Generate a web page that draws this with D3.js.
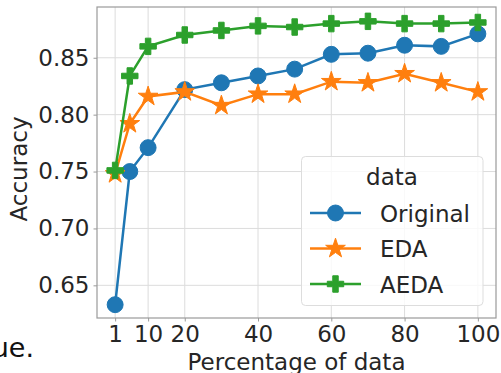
<!DOCTYPE html>
<html>
<head>
<meta charset="utf-8">
<script src="https://cdn.jsdelivr.net/npm/d3@7/dist/d3.min.js"></script>
<style>
  html, body { margin: 0; padding: 0; background: #fff; }
  svg { display: block; }
  text { font-family: "DejaVu Sans", sans-serif; fill: #262626; }
</style>
</head>
<body>
<svg id="chart" width="501" height="373"></svg>
<script>
// Percentage of training data used
const percentages = [1, 5, 10, 20, 30, 40, 50, 60, 70, 80, 90, 100];
// Accuracy per setting
const originalAcc = [0.633, 0.750, 0.771, 0.822, 0.828, 0.834, 0.840, 0.853, 0.854, 0.861, 0.860, 0.871];
const edaAcc      = [0.748, 0.792, 0.816, 0.820, 0.808, 0.818, 0.818, 0.829, 0.828, 0.836, 0.828, 0.820];
const aedaAcc     = [0.751, 0.834, 0.860, 0.870, 0.874, 0.878, 0.877, 0.880, 0.882, 0.880, 0.880, 0.881];
const seriesNames = ["Original", "EDA", "AEDA"];
const xTicks = [1, 10, 20, 40, 60, 80, 100];
const yTicks = [0.65, 0.70, 0.75, 0.80, 0.85];

const colors = ["#1f77b4", "#ff7f0e", "#2ca02c"];
const shapes = [d3.symbolCircle, d3.symbolStar, d3.symbolCross];
const sizes = [200, 120, 150];

const svg = d3.select("#chart");
const plotL = 97, plotR = 496, plotT = 7, plotB = 318;

const x = d3.scaleLinear().domain([-3.95, 104.95]).range([plotL, plotR]);
const y = d3.scaleLinear().domain([0.6213, 0.8946]).range([plotB, plotT]);

const fontSize = 23;

// grid
const grid = svg.append("g");
grid.selectAll("line.vx").data(xTicks).join("line")
  .attr("x1", d => x(d)).attr("x2", d => x(d))
  .attr("y1", plotT).attr("y2", plotB)
  .attr("stroke", "#dcdcdc").attr("stroke-width", 1);
grid.selectAll("line.hy").data(yTicks).join("line")
  .attr("x1", plotL).attr("x2", plotR)
  .attr("y1", d => y(d)).attr("y2", d => y(d))
  .attr("stroke", "#dcdcdc").attr("stroke-width", 1);

// axes
const xAxis = d3.axisBottom(x).tickValues(xTicks).tickSize(3.5).tickPadding(4)
  .tickFormat(d3.format("d"));
const yAxis = d3.axisLeft(y).tickValues(yTicks).tickSize(3.5).tickPadding(4)
  .tickFormat(d3.format(".2f"));

const gx = svg.append("g").attr("transform", `translate(0,${plotB})`).call(xAxis);
const gy = svg.append("g").attr("transform", `translate(${plotL},0)`).call(yAxis);
[gx, gy].forEach(g => {
  g.select(".domain").remove();
  g.selectAll(".tick line").attr("stroke", "#9a9a9a");
  g.selectAll(".tick text").attr("font-size", fontSize)
    .attr("font-family", "DejaVu Sans").attr("fill", "#262626");
});

// frame
svg.append("rect").attr("x", plotL).attr("y", plotT)
  .attr("width", plotR - plotL).attr("height", plotB - plotT)
  .attr("fill", "none").attr("stroke", "#9a9a9a").attr("stroke-width", 1.2);

// axis titles
svg.append("text").attr("x", (plotL + plotR) / 2).attr("y", 370)
  .attr("text-anchor", "middle").attr("font-size", fontSize)
  .text("Percentage of data");
svg.append("text")
  .attr("transform", "translate(27,169) rotate(-90)")
  .attr("text-anchor", "middle").attr("font-size", fontSize)
  .text("Accuracy");

// series
const allSeries = [originalAcc, edaAcc, aedaAcc];
const line = d3.line().x(d => x(d[0])).y(d => y(d[1]));
allSeries.forEach((vals, i) => {
  const pts = percentages.map((p, j) => [p, vals[j]]);
  const g = svg.append("g");
  g.append("path").datum(pts).attr("d", line)
    .attr("fill", "none").attr("stroke", colors[i]).attr("stroke-width", 2.5);
  g.selectAll("path.m").data(pts).join("path").attr("class", "m")
    .attr("d", d3.symbol().type(shapes[i]).size(sizes[i]))
    .attr("transform", d => `translate(${x(d[0])},${y(d[1])})`)
    .attr("fill", colors[i]).attr("stroke", colors[i]).attr("stroke-width", 1);
});

// legend
const lg = svg.append("g");
lg.append("rect").attr("x", 301.5).attr("y", 156.5).attr("width", 181.5).attr("height", 149)
  .attr("rx", 4).attr("fill", "#fff").attr("fill-opacity", 0.8)
  .attr("stroke", "#dddddd").attr("stroke-width", 1);
lg.append("text").attr("x", 392).attr("y", 185).attr("text-anchor", "middle")
  .attr("font-size", fontSize).text("data");
const rowY = [213, 248.5, 284];
seriesNames.forEach((name, i) => {
  const yy = rowY[i];
  lg.append("line").attr("x1", 310).attr("x2", 361).attr("y1", yy).attr("y2", yy)
    .attr("stroke", colors[i]).attr("stroke-width", 2.5);
  lg.append("path").attr("d", d3.symbol().type(shapes[i]).size(sizes[i])())
    .attr("transform", `translate(335.5,${yy})`)
    .attr("fill", colors[i]).attr("stroke", colors[i]).attr("stroke-width", 1);
  lg.append("text").attr("x", 380).attr("y", yy + 8.5).attr("font-size", fontSize).text(name);
});

// trailing word from surrounding text
svg.append("text").attr("x", 34).attr("y", 357).attr("text-anchor", "end")
  .attr("font-family", "Liberation Sans, Arial, sans-serif").attr("font-size", 27)
  .style("fill", "#111").text("ue.");
</script>
</body>
</html>
